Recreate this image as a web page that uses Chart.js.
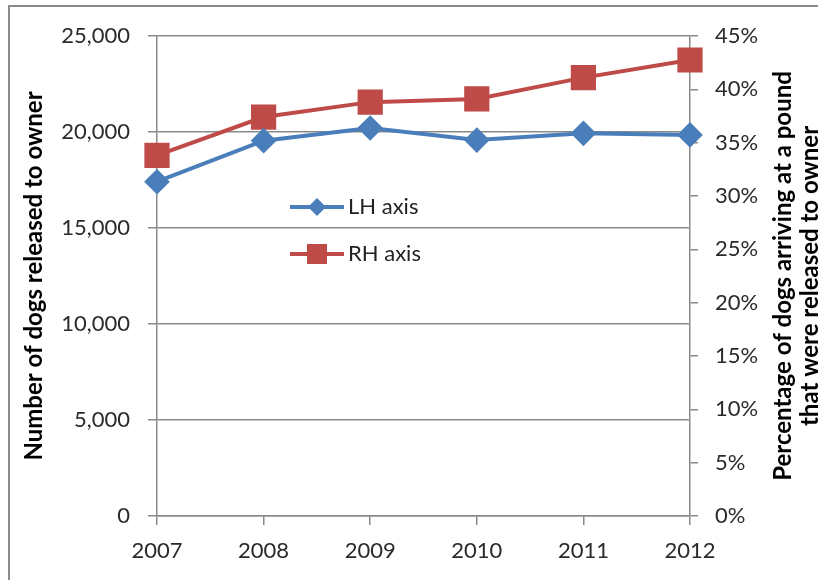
<!DOCTYPE html>
<html>
<head>
<meta charset="utf-8">
<script src="https://cdn.jsdelivr.net/npm/chart.js@4"></script>
<style>
  html, body { margin: 0; padding: 0; background: #fff; }
  #wrap { width: 818px; height: 580px; }
</style>
</head>
<body>
<div id="wrap"><canvas id="dogsChart" width="818" height="580"></canvas></div>
<script>
const years = ['2007', '2008', '2009', '2010', '2011', '2012'];
const releasedCount = [17410, 19550, 20210, 19580, 19930, 19850];   // LH axis
const releasedPct = [33.8, 37.4, 38.8, 39.1, 41.1, 42.75];          // RH axis, %
const leftTitle = 'Number of dogs released to owner';
const rightTitle = ['Percentage of dogs arriving at a pound', 'that were released to owner'];

const gridGray = '#8a8a8a';
const blue = '#4a7ebb';
const red = '#be4b48';

Chart.defaults.font.family = "Lato, 'Open Sans', sans-serif";
Chart.defaults.color = '#2a2a2a';

// outer frame of the picture
const framePlugin = {
    id: 'frame',
    beforeDraw(chart) {
        const ctx = chart.ctx;
        ctx.save();
        ctx.fillStyle = '#fff';
        ctx.fillRect(0, 0, chart.width, chart.height);
        ctx.strokeStyle = '#8c8c8c';
        ctx.lineWidth = 2;
        ctx.strokeRect(9, 6, chart.width + 20, chart.height + 20);
        ctx.restore();
    }
};

// legend sits inside the plot area, drawn by hand
const innerLegend = {
    id: 'innerLegend',
    afterDatasetsDraw(chart) {
        const ctx = chart.ctx;
        const area = chart.chartArea;
        const x0 = area.left + 133;
        chart.data.datasets.forEach(function (ds, i) {
            const y = area.top + 171 + i * 47;
            ctx.save();
            ctx.strokeStyle = ds.borderColor;
            ctx.lineWidth = 4;
            ctx.beginPath();
            ctx.moveTo(x0, y);
            ctx.lineTo(x0 + 54, y);
            ctx.stroke();
            ctx.fillStyle = ds.borderColor;
            const cx = x0 + 27;
            if (ds.pointStyle === 'rect') {
                ctx.fillRect(cx - 10, y - 10, 20, 20);
            } else {
                ctx.beginPath();
                ctx.moveTo(cx - 9, y);
                ctx.lineTo(cx, y - 9);
                ctx.lineTo(cx + 9, y);
                ctx.lineTo(cx, y + 9);
                ctx.closePath();
                ctx.fill();
            }
            ctx.fillStyle = '#222';
            ctx.font = "22px Lato, 'Open Sans', sans-serif";
            ctx.textBaseline = 'middle';
            ctx.fillText(ds.label, x0 + 58, y);
            ctx.restore();
        });
    }
};

// right axis title reads bottom-to-top, two lines
const rightTitlePlugin = {
    id: 'rightTitle',
    afterDraw(chart) {
        const ctx = chart.ctx;
        const area = chart.chartArea;
        const cy = (area.top + area.bottom) / 2;
        ctx.save();
        ctx.fillStyle = '#000';
        ctx.font = "bold 24px Lato, 'Open Sans', sans-serif";
        ctx.textAlign = 'center';
        ctx.textBaseline = 'middle';
        rightTitle.forEach(function (line, i) {
            ctx.save();
            ctx.translate(area.right + 93 + i * 27, cy);
            ctx.rotate(-Math.PI / 2);
            ctx.fillText(line, 0, 0);
            ctx.restore();
        });
        ctx.restore();
    }
};

const ctx = document.getElementById('dogsChart').getContext('2d');
const dogsChart = new Chart(ctx, {
    type: 'line',
    data: {
        labels: years,
        datasets: [{
            label: 'LH axis',
            data: releasedCount,
            yAxisID: 'y',
            borderColor: blue,
            backgroundColor: blue,
            borderWidth: 4,
            pointStyle: 'rectRot',
            pointRadius: 10,
            pointHoverRadius: 10,
            tension: 0
        }, {
            label: 'RH axis',
            data: releasedPct,
            yAxisID: 'y1',
            borderColor: red,
            backgroundColor: red,
            borderWidth: 4,
            pointStyle: 'rect',
            pointRadius: 15,
            pointHoverRadius: 15,
            tension: 0
        }]
    },
    options: {
        responsive: false,
        animation: false,
        layout: { padding: { top: 36, left: 0, right: 0, bottom: 0 } },
        plugins: {
            legend: { display: false },
            tooltip: { enabled: false }
        },
        scales: {
            x: {
                offset: false,
                grid: { drawOnChartArea: false, drawTicks: true, tickLength: 9, color: gridGray, lineWidth: 1.5 },
                border: { color: gridGray, width: 1.5 },
                ticks: { padding: 13, font: { size: 22 }, maxRotation: 0 },
                afterFit(scale) { scale.height = 64; }
            },
            y: {
                position: 'left',
                min: 0,
                max: 25000,
                grid: { color: gridGray, lineWidth: 1.5, tickLength: 9 },
                border: { color: gridGray, width: 1.5 },
                ticks: {
                    stepSize: 5000,
                    padding: 18,
                    font: { size: 22 },
                    callback: v => v.toLocaleString('en-US')
                },
                title: {
                    display: true,
                    text: leftTitle,
                    color: '#000',
                    font: { size: 24, weight: 'bold' },
                    padding: { top: 20, bottom: 0 }
                },
                afterFit(scale) { scale.width = 157; }
            },
            y1: {
                position: 'right',
                min: 0,
                max: 45,
                grid: { drawOnChartArea: false, color: gridGray, lineWidth: 1.5, tickLength: 8 },
                border: { color: gridGray, width: 1.5 },
                ticks: {
                    stepSize: 5,
                    padding: 17,
                    font: { size: 22 },
                    callback: v => v + '%'
                },
                afterFit(scale) { scale.width = 128; }
            }
        }
    },
    plugins: [framePlugin, innerLegend, rightTitlePlugin]
});
</script>
</body>
</html>
